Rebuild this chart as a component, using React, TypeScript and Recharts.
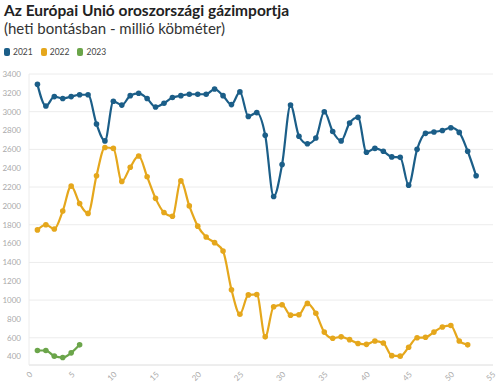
import * as React from 'react'
import { LineChart, Line, XAxis, YAxis, CartesianGrid } from 'recharts'

const weeks2021 = [
  1, 2, 3, 4, 5, 6, 7, 8, 9, 10, 11, 12, 13, 14, 15, 16, 17, 18, 19, 20, 21, 22, 23, 24, 25, 26,
  27, 28, 29, 30, 31, 32, 33, 34, 35, 36, 37, 38, 39, 40, 41, 42, 43, 44, 45, 46, 47, 48, 49, 50,
  51, 52, 53,
]
const values2021 = [
  3290, 3060, 3160, 3140, 3160, 3180, 3180, 2870, 2690, 3110, 3070, 3170, 3195, 3140, 3050, 3090,
  3150, 3170, 3185, 3185, 3185, 3240, 3170, 3075, 3210, 2950, 2990, 2750, 2100, 2440, 3070, 2740,
  2660, 2720, 3000, 2790, 2690, 2880, 2940, 2570, 2610, 2580, 2520, 2515, 2220, 2600, 2770, 2785,
  2800, 2830, 2780, 2580, 2320,
]
const values2022 = [
  1745, 1800, 1755, 1945, 2210, 2025, 1920, 2320, 2620, 2610, 2260, 2410, 2530, 2310, 2080, 1930,
  1890, 2265, 2000, 1785, 1670, 1610, 1520, 1110, 850, 1055, 1060, 610, 930, 950, 840, 845, 965,
  860, 660, 595, 610, 580, 540, 530, 565, 545, 410, 405, 500, 600, 605, 660, 715, 730, 565, 525,
]
const values2023 = [465, 465, 405, 390, 440, 525]

const xTicks = [0, 5, 10, 15, 20, 25, 30, 35, 40, 45, 50, 55]
const yTicks = [400, 600, 800, 1000, 1200, 1400, 1600, 1800, 2000, 2200, 2400, 2600, 2800, 3000, 3200, 3400]

const series = [
  { key: 'y2021', label: '2021', color: '#1b5e88' },
  { key: 'y2022', label: '2022', color: '#e5a71c' },
  { key: 'y2023', label: '2023', color: '#6ba54a' },
]

const data = weeks2021.map((w, i) => ({
  week: w,
  y2021: values2021[i],
  y2022: values2022[i] ?? null,
  y2023: values2023[i] ?? null,
}))

const FONT = 'Lato, "Noto Sans", sans-serif'

function XTick({ x, y, payload }: any) {
  const ex = x + 4
  const ey = y + 2
  return (
    <text
      x={ex}
      y={ey}
      transform={`rotate(-45 ${ex} ${ey})`}
      textAnchor="end"
      fontSize={8}
      fill="#aaaaaa"
      fontFamily={FONT}
    >
      {payload.value}
    </text>
  )
}

export default function App() {
  return (
    <div style={{ position: 'absolute', left: 0, top: 0, width: 500, height: 391, background: '#fff', fontFamily: FONT }}>
      <div style={{ position: 'absolute', left: 4, top: 1, fontSize: 15.5, fontWeight: 700, color: '#222', whiteSpace: 'nowrap' }}>
        Az Európai Unió oroszországi gázimportja
      </div>
      <div style={{ position: 'absolute', left: 4, top: 19, fontSize: 15, color: '#333', whiteSpace: 'nowrap' }}>
        (heti bontásban - millió köbméter)
      </div>
      <div style={{ position: 'absolute', left: 4, top: 47, display: 'flex', gap: 8, fontSize: 8.5, color: '#444' }}>
        {series.map((s) => (
          <div key={s.key} style={{ display: 'flex', alignItems: 'center', gap: 3 }}>
            <span style={{ width: 6, height: 8, borderRadius: 2, background: s.color, display: 'inline-block' }} />
            {s.label}
          </div>
        ))}
      </div>
      <div style={{ position: 'absolute', left: 0, top: 0 }}>
        <LineChart width={500} height={391} data={data} margin={{ top: 74, right: 7, bottom: 0, left: 0 }}>
          <CartesianGrid vertical={false} stroke="#ececec" />
          <XAxis
            dataKey="week"
            type="number"
            domain={[0, 55]}
            ticks={xTicks}
            height={26}
            tick={<XTick />}
            tickLine={false}
            axisLine={{ stroke: '#e6e6e6' }}
          />
          <YAxis
            type="number"
            domain={[311, 3400]}
            ticks={yTicks}
            width={29}
            tickLine={false}
            axisLine={{ stroke: '#ececec' }}
            tick={{ fontSize: 8, fill: '#aaaaaa', fontFamily: FONT }}
            tickMargin={2}
          />
          {series.map((s) => (
            <Line
              key={s.key}
              dataKey={s.key}
              type="monotone"
              stroke={s.color}
              strokeWidth={2.2}
              dot={{ r: 2.8, fill: s.color, stroke: s.color, strokeWidth: 0 }}
              isAnimationActive={false}
              connectNulls={false}
            />
          ))}
        </LineChart>
      </div>
    </div>
  )
}
